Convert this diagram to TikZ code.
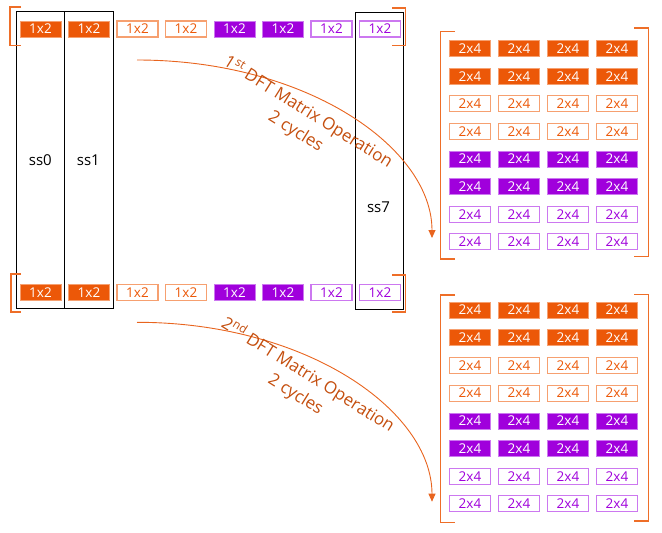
\documentclass[tikz,border=0pt]{standalone}
\usepackage{fontspec}
\setmainfont{Open Sans}
\usetikzlibrary{arrows.meta}
\definecolor{orF}{RGB}{236,88,8}
\definecolor{orL}{RGB}{246,160,112}
\definecolor{puF}{RGB}{160,0,220}
\definecolor{puL}{RGB}{204,120,240}
\definecolor{brk}{RGB}{238,110,40}
\definecolor{arrc}{RGB}{232,100,30}
\definecolor{lblc}{RGB}{196,78,14}
\begin{document}
\begin{tikzpicture}[x=1pt,y=-1pt,
 cell/.style={minimum width=41pt,minimum height=16pt,inner sep=0pt,font=\fontsize{13.5}{13.5}\selectfont,line width=1.1pt},
 orfill/.style={cell,fill=orF,draw=orL,line width=0.5pt,text=white},
 orline/.style={cell,fill=white,draw=orL,text=orF},
 pufill/.style={cell,fill=puF,draw=puL,line width=0.5pt,text=white},
 puline/.style={cell,fill=white,draw=puL,text=puF},
 brkt/.style={draw=brk,line width=1.5pt},
 ssbox/.style={draw=black,line width=0.9pt,inner sep=0pt},
 sslabel/.style={font=\fontsize{15}{15}\selectfont,inner sep=0pt},
 arrowc/.style={draw=arrc,line width=0.9pt,-{Triangle[length=8pt,width=7pt]}},
 dftlabel/.style={text=lblc,align=center,inner sep=0pt,font=\fontsize{17}{23}\selectfont}
]
\useasboundingbox (0,0) rectangle (662,533);
% ss columns
\node[ssbox,minimum width=48pt,minimum height=297pt] (ss0) at (40,159.5) {};
\node[ssbox,minimum width=49pt,minimum height=297pt] (ss1) at (88.5,159.5) {};
\node[ssbox,minimum width=47.6pt,minimum height=297pt] (ss7) at (379.5,160.5) {};
\node[sslabel] (ss0l) at (40.3,160) {ss0};
\node[sslabel] (ss1l) at (88.3,160) {ss1};
\node[sslabel] (ss7l) at (378.5,207.5) {ss7};
% rows of 1x2
\foreach \i/\s in {0/orfill,1/orfill,2/orline,3/orline,4/pufill,5/pufill,6/puline,7/puline} {
  \node[\s] (t\i) at ({40.5+48.5*\i},29) {1x2};
  \node[\s] (b\i) at ({40.5+48.5*\i},292.3) {1x2};
}
% brackets of rows
\draw[brkt] (21,7) -- (10,7) -- (10,45.7) -- (21,45.7);
\draw[brkt] (392,8) -- (405.7,8) -- (405.7,45.7) -- (392,45.7);
\draw[brkt] (21,274) -- (11,274) -- (11,312) -- (21,312);
\draw[brkt] (392,275) -- (405.7,275) -- (405.7,312) -- (392,312);
% matrices
\foreach \r/\s in {0/orfill,1/orfill,2/orline,3/orline,4/pufill,5/pufill,6/puline,7/puline} {
 \foreach \c in {0,1,2,3} {
  \node[\s] (ma\r\c) at ({470+49*\c},{48.7+27.6*\r}) {2x4};
  \node[\s] (mb\r\c) at ({470+49*\c},{310+27.7*\r}) {2x4};
 }
}
\draw[brkt] (455,31.7) -- (440.7,31.7) -- (440.7,259) -- (455,259);
\draw[brkt] (634,28) -- (648.7,28) -- (648.7,256.7) -- (634,256.7);
\draw[brkt] (455,295) -- (440.7,295) -- (440.7,522.3) -- (455,522.3);
\draw[brkt] (634,294.3) -- (648.7,294.3) -- (648.7,521) -- (634,521);
% arrows
\coordinate (a1s) at (137,60);
\coordinate (a1e) at (432,238);
\draw[arrowc] (a1s) .. controls (307,60) and (432,148) .. (a1e);
\coordinate (a2s) at (137,322.3);
\coordinate (a2e) at (432,501.7);
\draw[arrowc] (a2s) .. controls (307,322.3) and (432,411) .. (a2e);
\node[dftlabel,rotate=-32] (l1) at (302,122) {1\textsuperscript{st} DFT Matrix Operation\\2 cycles};
\node[dftlabel,rotate=-32] (l2) at (302,384.5) {2\textsuperscript{nd} DFT Matrix Operation\\2 cycles};
\end{tikzpicture}
\end{document}
